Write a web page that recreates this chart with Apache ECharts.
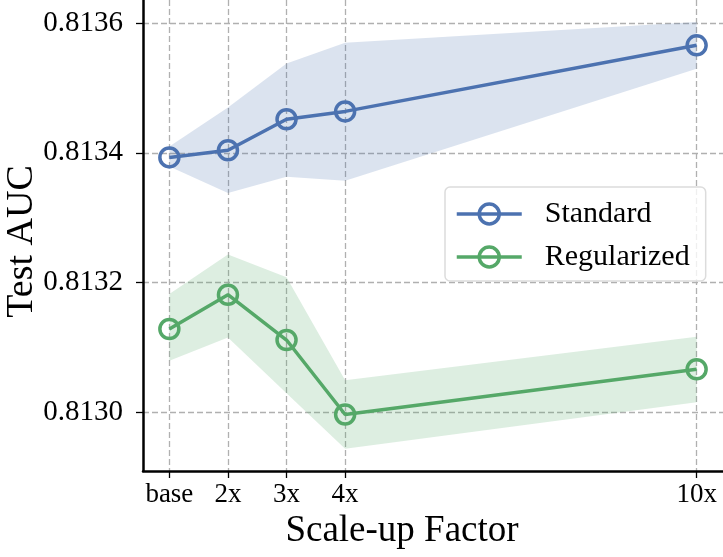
<!DOCTYPE html>
<html>
<head>
<meta charset="utf-8">
<script src="https://cdn.jsdelivr.net/npm/echarts@6/dist/echarts.min.js"></script>
<style>
html,body{margin:0;padding:0;background:#fff;}
#chart{width:723px;height:557px;}
</style>
</head>
<body>
<div id="chart"></div>
<script>
const xValues = [1, 2, 3, 4, 10];
const xLabels = ['base', '2x', '3x', '4x', '10x'];
const yTicks = [0.8130, 0.8132, 0.8134, 0.8136];
const standardMean = [0.813393, 0.813404, 0.813452, 0.813464, 0.813566];
const standardLow  = [0.813379, 0.813338, 0.813363, 0.813357, 0.813530];
const standardHigh = [0.813410, 0.813470, 0.813538, 0.813570, 0.813602];
const regularizedMean = [0.813128, 0.813181, 0.813111, 0.812996, 0.813066];
const regularizedLow  = [0.813079, 0.813115, 0.813029, 0.812943, 0.813015];
const regularizedHigh = [0.813182, 0.813243, 0.813208, 0.813049, 0.813116];

const BLUE = '#4C72B0';
const GREEN = '#55A868';
const FONT = '"Liberation Serif", "DejaVu Serif", serif';

const pairs = (ys) => xValues.map((x, i) => [x, ys[i]]);

function meanSeries(name, ys, color) {
  return {
    name: name, type: 'line', data: pairs(ys), z: 5,
    symbol: 'circle', symbolSize: 19,
    lineStyle: { color: color, width: 3.5 },
    itemStyle: { color: 'rgba(255,255,255,0)', borderColor: color, borderWidth: 3.5 },
    emphasis: { disabled: true }
  };
}
function bandSeries(id, lo, hi, color) {
  return {
    name: id, type: 'custom', silent: true, z: 1,
    data: xValues.map((x, i) => [x, lo[i], hi[i]]),
    encode: { x: 0, y: [1, 2] },
    renderItem: (params, api) => {
      if (params.dataIndex !== 0) return null;
      const upper = xValues.map((x, i) => api.coord([x, hi[i]]));
      const lower = xValues.map((x, i) => api.coord([x, lo[i]])).reverse();
      return {
        type: 'polygon',
        shape: { points: upper.concat(lower) },
        style: { fill: color, opacity: 0.2 }
      };
    }
  };
}

const chart = echarts.init(document.getElementById('chart'));
chart.setOption({
  animation: false,
  backgroundColor: '#fff',
  textStyle: { fontFamily: FONT },
  grid: { left: 143, right: 0, top: 0, bottom: 86, outerBoundsMode: 'none', containLabel: false },
  legend: {
    data: ['Standard', 'Regularized'],
    orient: 'vertical', left: 445, top: 187,
    itemWidth: 65, itemHeight: 25, itemGap: 13,
    padding: [12, 16, 9, 10],
    borderColor: '#dcdcdc', borderWidth: 1.5, borderRadius: 5,
    backgroundColor: 'rgba(255,255,255,0.8)',
    lineStyle: { width: 3.5 },
    itemStyle: { borderWidth: 3.5 },
    textStyle: { fontFamily: FONT, fontSize: 30, lineHeight: 25, color: '#000', padding: [0, 0, 0, 18] }
  },
  xAxis: {
    type: 'value', min: 0.55, max: 10.45,
    name: 'Scale-up Factor', nameLocation: 'middle', nameGap: 42, nameMoveOverlap: false,
    nameTextStyle: { fontFamily: FONT, fontSize: 37, color: '#000', padding: [0, 62, 0, 0] },
    axisLine: { show: true, onZero: false, lineStyle: { color: '#000', width: 2.5 } },
    axisTick: { show: true, length: 7, customValues: xValues, lineStyle: { color: '#000', width: 1.3 } },
    axisLabel: {
      customValues: xValues, fontFamily: FONT, fontSize: 27, color: '#000', margin: 10,
      formatter: (v) => { const i = xValues.indexOf(v); return i >= 0 ? xLabels[i] : ''; }
    },
    splitLine: { show: true, lineStyle: { color: '#b0b0b0', width: 1.3, type: [6, 3] } }
  },
  yAxis: {
    type: 'value', min: 0.8129088, max: 0.813636,
    name: 'Test AUC', nameLocation: 'middle', nameGap: 102, nameMoveOverlap: false,
    nameTextStyle: { fontFamily: FONT, fontSize: 38, color: '#000', padding: [0, 12, 0, 0] },
    axisLine: { show: true, onZero: false, lineStyle: { color: '#000', width: 2.5 } },
    axisTick: { show: true, length: 7, customValues: yTicks, lineStyle: { color: '#000', width: 1.3 } },
    axisLabel: {
      customValues: yTicks, fontFamily: FONT, fontSize: 29, color: '#000', margin: 20,
      formatter: (v) => v.toFixed(4)
    },
    splitLine: { show: true, lineStyle: { color: '#b0b0b0', width: 1.3, type: [6, 3] } }
  },
  series: [
    bandSeries('std', standardLow, standardHigh, BLUE),
    bandSeries('reg', regularizedLow, regularizedHigh, GREEN),
    meanSeries('Standard', standardMean, BLUE),
    meanSeries('Regularized', regularizedMean, GREEN)
  ]
});
</script>
</body>
</html>
